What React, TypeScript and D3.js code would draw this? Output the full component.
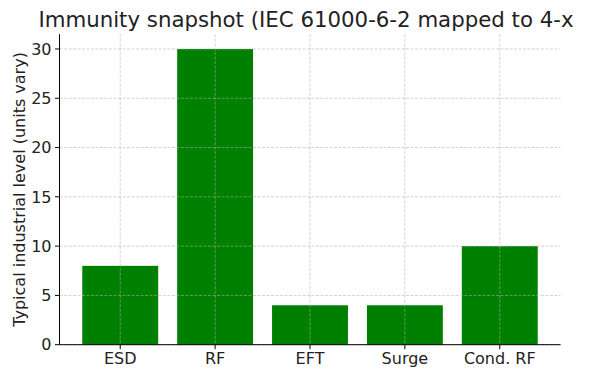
import React from "react";
import * as d3 from "d3";

const categories = ["ESD", "RF", "EFT", "Surge", "Cond. RF"];
const values = [8, 30, 4, 4, 10];
const yTicks = [0, 5, 10, 15, 20, 25, 30];
const title = "Immunity snapshot (IEC 61000-6-2 mapped to 4-x";
const yLabel = "Typical industrial level (units vary)";

export default function App() {
  const W = 590, H = 373;
  const left = 59.5, right = 560.5, top = 34.2, bottom = 344.7;
  const x = d3.scaleLinear().domain([-0.64, 4.64]).range([left, right]);
  const y = d3.scaleLinear().domain([0, 31.5]).range([bottom, top]);
  const font = "DejaVu Sans, sans-serif";
  const bw = x(0.4) - x(-0.4);
  return (
    <div style={{ position: "fixed", left: 0, top: 0, width: W, height: H, overflow: "hidden", background: "#fff" }}>
      <svg width={W} height={H} style={{ display: "block" }} fontFamily={font}>
        <rect width={W} height={H} fill="#fff" />
        {categories.map((c, i) => (
          <rect key={c} x={x(i) - bw / 2} y={y(values[i])} width={bw} height={y(0) - y(values[i])} fill="#008000" />
        ))}
        {yTicks.map((t) => (
          <line key={"gy" + t} x1={left} x2={right} y1={y(t)} y2={y(t)} stroke="#b0b0b0" strokeOpacity={0.7} strokeWidth={0.8} strokeDasharray="3,1.5" />
        ))}
        {categories.map((c, i) => (
          <line key={"gx" + c} x1={x(i)} x2={x(i)} y1={top} y2={bottom} stroke="#b0b0b0" strokeOpacity={0.7} strokeWidth={0.8} strokeDasharray="3,1.5" />
        ))}
        <line x1={left} x2={left} y1={top} y2={bottom} stroke="#000" strokeWidth={1} />
        <line x1={left} x2={right} y1={bottom} y2={bottom} stroke="#000" strokeWidth={1} />
        {yTicks.map((t) => (
          <g key={"ty" + t}>
            <line x1={left - 4.5} x2={left} y1={y(t)} y2={y(t)} stroke="#000" strokeWidth={1} />
            <text x={left - 8} y={y(t)} dy="0.36em" textAnchor="end" fontSize={16} fill="#222">{t}</text>
          </g>
        ))}
        {categories.map((c, i) => (
          <g key={"tx" + c}>
            <line x1={x(i)} x2={x(i)} y1={bottom} y2={bottom + 4.5} stroke="#000" strokeWidth={1} />
            <text x={x(i)} y={bottom + 19} textAnchor="middle" fontSize={16} fill="#222">{c}</text>
          </g>
        ))}
        <text transform={`translate(25,${(top + bottom) / 2}) rotate(-90)`} textAnchor="middle" fontSize={16} fill="#222">{yLabel}</text>
        <text x={306} y={27} textAnchor="middle" fontSize={21.3} fill="#222">{title}</text>
      </svg>
    </div>
  );
}
